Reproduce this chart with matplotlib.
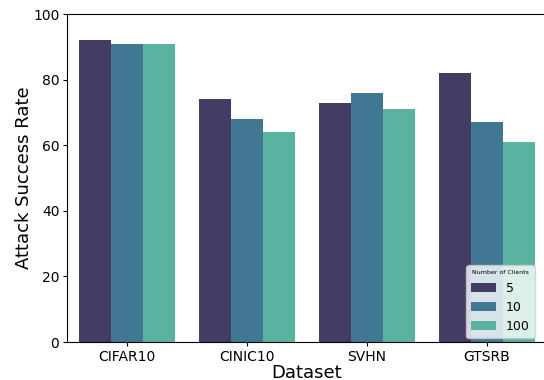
import matplotlib
matplotlib.use("Agg")
import matplotlib.pyplot as plt
import numpy as np

datasets = ["CIFAR10", "CINIC10", "SVHN", "GTSRB"]
clients = ["5", "10", "100"]
asr_5 = [92, 74, 73, 82]
asr_10 = [91, 68, 76, 67]
asr_100 = [91, 64, 71, 61]
colors = ["#433c64", "#427793", "#5ab2a0"]

fig = plt.figure(figsize=(5.44, 3.8), dpi=100)
ax = fig.add_axes([67 / 544, 38 / 380, 480 / 544, 328 / 380])

x = np.arange(len(datasets))
width = 0.8 / 3
for i, (label, vals) in enumerate(zip(clients, [asr_5, asr_10, asr_100])):
    ax.bar(x + (i - 1) * width, vals, width, color=colors[i], label=label)

ax.set_xlim(-0.5, len(datasets) - 0.5)
ax.set_ylim(0, 100)
ax.set_xticks(x)
ax.set_xticklabels(datasets, fontsize=10)
ax.tick_params(axis="both", labelsize=10, length=3, pad=2.5)
ax.set_xlabel("Dataset", fontsize=13, labelpad=0)
ax.set_ylabel("Attack Success Rate", fontsize=13, labelpad=0)
leg = ax.legend(title="Number of Clients", loc="lower right", fontsize=9,
                title_fontsize=4.5, bbox_to_anchor=(0.975, 0.012),
                borderaxespad=0)

fig.savefig("out.png", dpi=100)
